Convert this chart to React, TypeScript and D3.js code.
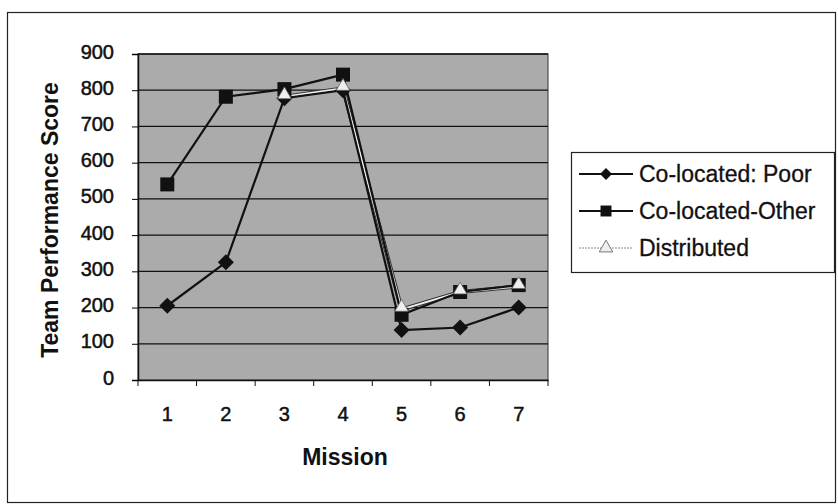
import React, { useEffect, useRef } from 'react';
import * as d3 from 'd3';

const missions = ['1', '2', '3', '4', '5', '6', '7'];
const yTicks = [0, 100, 200, 300, 400, 500, 600, 700, 800, 900];

const poorValues = [205, 325, 778, 800, 138, 145, 200];
const otherValues = [540, 782, 803, 843, 180, 243, 262];
const distributedValues = [null, null, 782, 805, 195, 243, 258];

const seriesNames = ['Co-located: Poor', 'Co-located-Other', 'Distributed'];

const App = () => {
  const svgRef = useRef(null);

  useEffect(() => {
    const svg = d3.select(svgRef.current);
    svg.selectAll('*').remove(); // redraw from scratch

    const width = 838;
    const height = 504;
    const plot = { left: 138, right: 548, top: 54, bottom: 380 };
    const font = 'Arial, "Liberation Sans", sans-serif';

    // outer frame
    svg.append('rect')
      .attr('x', 7.5).attr('y', 12.5)
      .attr('width', width - 10).attr('height', height - 14)
      .attr('fill', 'white').attr('stroke', '#222').attr('stroke-width', 1.2);

    const x = d3.scaleBand().domain(missions).range([plot.left, plot.right]);
    const y = d3.scaleLinear().domain([0, 900]).range([plot.bottom, plot.top]);

    // grey plot area
    svg.append('rect')
      .attr('x', plot.left).attr('y', plot.top)
      .attr('width', plot.right - plot.left).attr('height', plot.bottom - plot.top)
      .attr('fill', '#ababab').attr('stroke', '#333');

    // gridlines
    svg.append('g')
      .selectAll('line')
      .data(yTicks.slice(1))
      .join('line')
      .attr('x1', plot.left).attr('x2', plot.right)
      .attr('y1', (d) => y(d)).attr('y2', (d) => y(d))
      .attr('stroke', '#111').attr('stroke-width', 1.3);

    const yAxis = svg.append('g')
      .attr('transform', `translate(${plot.left},0)`)
      .call(d3.axisLeft(y).tickValues(yTicks).tickSize(6).tickPadding(18));
    yAxis.select('.domain').attr('stroke', '#111').attr('stroke-width', 1.5);
    yAxis.selectAll('text')
      .attr('font-family', font).attr('font-size', 20).attr('fill', '#111')
      .attr('stroke', '#111').attr('stroke-width', 0.5)
      .attr('dy', '0.2em');

    const xAxis = svg.append('g')
      .attr('transform', `translate(0,${plot.bottom})`)
      .call(d3.axisBottom(x).tickSize(0).tickPadding(27));
    xAxis.select('.domain').attr('stroke', '#111').attr('stroke-width', 1.5);
    xAxis.selectAll('text')
      .attr('font-family', font).attr('font-size', 20).attr('fill', '#111')
      .attr('stroke', '#111').attr('stroke-width', 0.5);

    // tick marks between categories
    xAxis.append('g')
      .selectAll('line')
      .data(missions.map((m) => x(m)).concat([plot.right]))
      .join('line')
      .attr('x1', (d) => d).attr('x2', (d) => d)
      .attr('y1', 0).attr('y2', 6)
      .attr('stroke', '#111');

    svg.append('text')
      .attr('x', 345).attr('y', 465)
      .attr('text-anchor', 'middle')
      .attr('font-family', font).attr('font-size', 23).attr('font-weight', 'bold')
      .attr('fill', '#111')
      .text('Mission');

    svg.append('text')
      .attr('transform', `translate(58,220) rotate(-90)`)
      .attr('text-anchor', 'middle')
      .attr('font-family', font).attr('font-size', 23).attr('font-weight', 'bold')
      .attr('fill', '#111')
      .text('Team Performance Score');

    const cx = (i) => x(missions[i]) + x.bandwidth() / 2;
    const line = d3.line()
      .defined((d) => d != null)
      .x((d, i) => cx(i))
      .y((d) => y(d));

    const diamondPath = 'M0,-8L8,0L0,8L-8,0Z';
    const square = d3.symbol().type(d3.symbolSquare).size(196);
    const triangle = d3.symbol().type(d3.symbolTriangle).size(80);

    // Distributed: light double line
    svg.append('path').datum(distributedValues)
      .attr('fill', 'none').attr('stroke', '#333').attr('stroke-width', 4).attr('d', line);
    svg.append('path').datum(distributedValues)
      .attr('fill', 'none').attr('stroke', '#eee').attr('stroke-width', 2).attr('d', line);

    // Co-located: Poor
    svg.append('path').datum(poorValues)
      .attr('fill', 'none').attr('stroke', '#111').attr('stroke-width', 2.2).attr('d', line);
    svg.append('g').selectAll('path').data(poorValues).join('path')
      .attr('transform', (d, i) => `translate(${cx(i)},${y(d)})`)
      .attr('d', diamondPath).attr('fill', '#111');

    // Co-located-Other
    svg.append('path').datum(otherValues)
      .attr('fill', 'none').attr('stroke', '#111').attr('stroke-width', 2.2).attr('d', line);
    svg.append('g').selectAll('path').data(otherValues).join('path')
      .attr('transform', (d, i) => `translate(${cx(i)},${y(d)})`)
      .attr('d', square).attr('fill', '#111');

    svg.append('g').selectAll('path')
      .data(distributedValues.map((d, i) => ({ d, i })).filter((p) => p.d != null))
      .join('path')
      .attr('transform', (p) => `translate(${cx(p.i)},${y(p.d) - 2})`)
      .attr('d', triangle).attr('fill', '#eee').attr('stroke', '#666').attr('stroke-width', 0.8);

    // legend
    const legend = svg.append('g').attr('transform', 'translate(571,152)');
    legend.append('rect')
      .attr('x', 0.5).attr('y', 0.5).attr('width', 263).attr('height', 120)
      .attr('fill', 'white').attr('stroke', '#222').attr('stroke-width', 1.2);

    const rows = legend.selectAll('g.row').data(seriesNames).join('g')
      .attr('class', 'row')
      .attr('transform', (d, i) => `translate(0,${22 + i * 37})`);
    rows.append('line')
      .attr('x1', 8).attr('x2', 62).attr('y1', 0).attr('y2', 0)
      .attr('stroke', (d, i) => (i === 2 ? '#888' : '#111'))
      .attr('stroke-width', (d, i) => (i === 2 ? 1 : 1.8))
      .attr('stroke-dasharray', (d, i) => (i === 2 ? '2,1' : null));
    rows.append('path')
      .attr('transform', 'translate(35,0)')
      .attr('d', (d, i) => (i === 0 ? 'M0,-6L6,0L0,6L-6,0Z' : i === 1 ? d3.symbol().type(d3.symbolSquare).size(120)() : triangle()))
      .attr('fill', (d, i) => (i === 2 ? '#eee' : '#111'))
      .attr('stroke', (d, i) => (i === 2 ? '#777' : 'none'));
    rows.append('text')
      .attr('x', 68).attr('y', 8)
      .attr('font-family', font).attr('font-size', 23).attr('fill', '#111')
      .attr('stroke', '#111').attr('stroke-width', 0.3)
      .text((d) => d);
  }, []);

  return (
    <svg
      ref={svgRef}
      width={838}
      height={504}
      style={{ position: 'absolute', left: 0, top: 0 }}
    ></svg>
  );
};

export default App;
